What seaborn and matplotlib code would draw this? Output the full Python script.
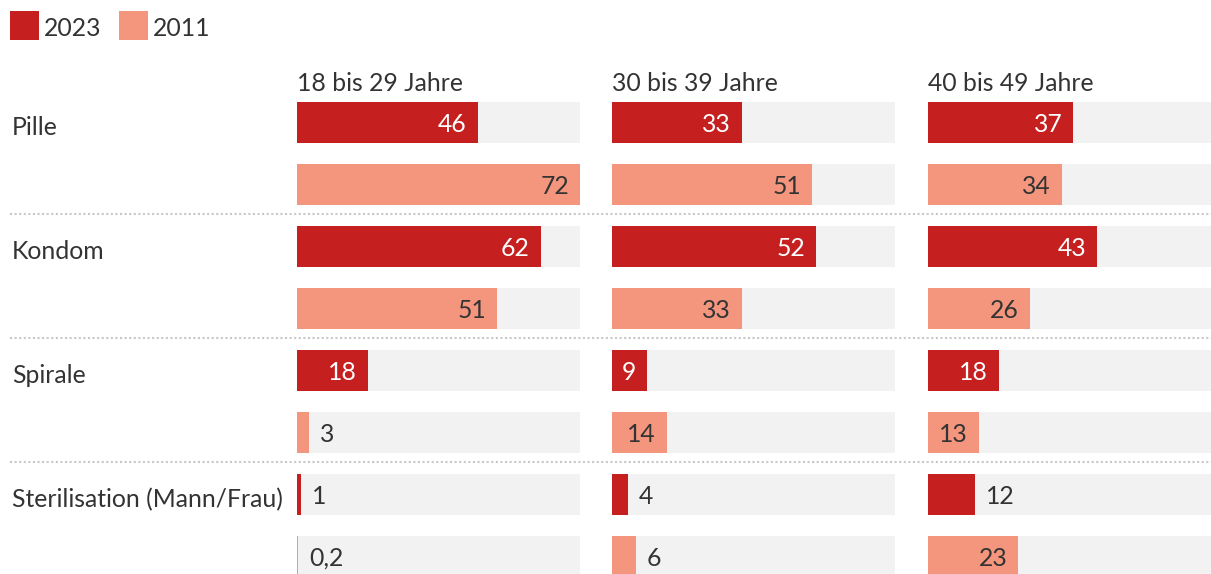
import matplotlib
matplotlib.use("Agg")
import matplotlib.pyplot as plt
from matplotlib.patches import Rectangle
from matplotlib.lines import Line2D
from matplotlib.transforms import offset_copy
import pandas as pd
import seaborn as sns

# Contraceptive methods by age group, share in percent
age_groups = ["18 bis 29 Jahre", "30 bis 39 Jahre", "40 bis 49 Jahre"]
methods = ["Pille", "Kondom", "Spirale", "Sterilisation (Mann/Frau)"]
years = ["2023", "2011"]
values_2023 = [
    [46, 62, 18, 1],
    [33, 52, 9, 4],
    [37, 43, 18, 12],
]
values_2011 = [
    [72, 51, 3, 0.2],
    [51, 33, 14, 6],
    [34, 26, 13, 23],
]
scale_max = 72

C2023 = "#C61F1F"
C2011 = "#F4967D"
TRACK = "#F2F2F2"
TEXT = "#333333"

sns.set_theme(style="white")
plt.rcParams["font.family"] = ["Lato", "DejaVu Sans"]
FS = 17.8
EM_PX = FS * 100 / 72
CHAR_PX = 0.56 * EM_PX  # approximate advance of one digit
PAD = 11

W, H = 1211, 574
fig = plt.figure(figsize=(W / 100, H / 100), dpi=100)
fig.patch.set_facecolor("white")

row_keys = [f"{m}|{y}" for m in methods for y in years]

# panel geometry in pixels
col_left = [297, 612, 928]
col_w = 283
top_px = 91.5
pitch = 62
ymax = 7 + (H - 556.5) / pitch

for ci, grp in enumerate(age_groups):
    ax = fig.add_axes([col_left[ci] / W, 0, col_w / W, 1 - top_px / H])
    rows = []
    for mi, m in enumerate(methods):
        rows.append({"row": f"{m}|2023", "year": "2023", "value": values_2023[ci][mi]})
        rows.append({"row": f"{m}|2011", "year": "2011", "value": values_2011[ci][mi]})
    df = pd.DataFrame(rows)
    track = pd.DataFrame({"row": row_keys, "value": [scale_max] * len(row_keys)})

    sns.barplot(data=track, x="value", y="row", order=row_keys, color=TRACK,
                saturation=1, width=0.66, linewidth=0, ax=ax, errorbar=None)
    sns.barplot(data=df, x="value", y="row", hue="year", order=row_keys,
                hue_order=years, palette={"2023": C2023, "2011": C2011},
                saturation=1, width=0.66, linewidth=0, dodge=False,
                legend=False, ax=ax, errorbar=None)
    ax.set_xlim(0, scale_max)
    ax.set_ylim(ymax, -0.5)
    ax.axis("off")

    inside_tr = offset_copy(ax.transData, fig=fig, x=-PAD, y=0, units="dots")
    outside_tr = offset_copy(ax.transData, fig=fig, x=PAD, y=0, units="dots")
    for i, r in df.iterrows():
        v = r["value"]
        label = f"{v:g}".replace(".", ",")
        bar_px = v / scale_max * col_w
        # label goes inside the bar only if it fits with padding on both sides
        if len(label) * CHAR_PX + 2 * 10 <= bar_px:
            ax.text(v, i, label, fontsize=FS, ha="right", va="center_baseline",
                    color="white" if r["year"] == "2023" else TEXT,
                    transform=inside_tr)
        else:
            ax.text(v, i, label, fontsize=FS, ha="left", va="center_baseline",
                    color=TEXT, transform=outside_tr)

    fig.text(col_left[ci] / W, 1 - 82 / H, grp, fontsize=FS, color=TEXT,
             ha="left", va="center_baseline")

# method labels
for mi, m in enumerate(methods):
    y_px = 125.5 + mi * 2 * pitch
    fig.text(12 / W, 1 - y_px / H, m, fontsize=FS, color=TEXT,
             ha="left", va="center_baseline")

# dotted separators between methods
for y_px in [214, 338, 462]:
    fig.add_artist(Line2D([10 / W, 1], [1 - y_px / H] * 2, transform=fig.transFigure,
                          color="#C8C8C8", linewidth=1.5, linestyle=(0, (1, 1.2))))

# legend
for x_px, col, lab in [(10, C2023, "2023"), (119, C2011, "2011")]:
    fig.add_artist(Rectangle((x_px / W, 1 - 40 / H), 29 / W, 29 / H,
                             transform=fig.transFigure, color=col, linewidth=0))
    fig.text((x_px + 34) / W, 1 - 27 / H, lab, fontsize=FS, color=TEXT,
             ha="left", va="center_baseline")

fig.savefig("out.png", dpi=100, facecolor="white")
